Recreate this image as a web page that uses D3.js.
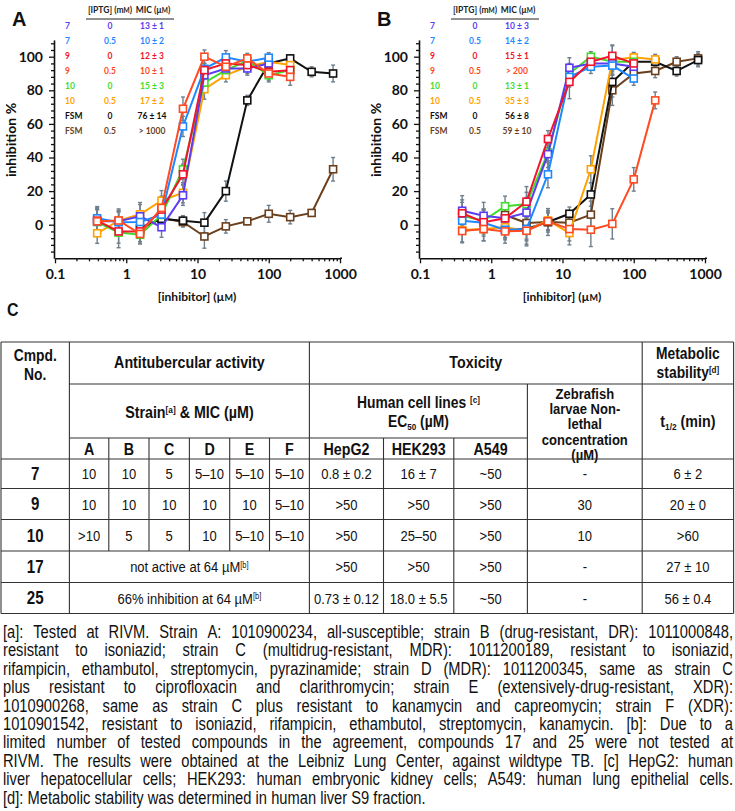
<!DOCTYPE html>
<html><head><meta charset="utf-8">
<script src="https://cdn.jsdelivr.net/npm/d3@7"></script>
<style>body{margin:0;background:#fff} svg{display:block}</style>
</head><body>
<svg id="fig" width="735" height="811"></svg>
<script>
// ---------- DATA ----------
const conc = [0.390625, 0.78125, 1.5625, 3.125, 6.25, 12.5, 25, 50, 100, 200, 400, 800];
const seriesCompound = ["7", "7", "9", "9", "10", "10", "FSM", "FSM"];
const seriesIPTG = ["0", "0.5", "0", "0.5", "0", "0.5", "0", "0.5"];
const seriesColors = ["#5a3cf2", "#1e88ff", "#f0142d", "#ff4a22", "#3fdc2c", "#ffa100", "#111111", "#6b3f1c"];
const micA = ["13 ± 1", "10 ± 2", "12 ± 3", "10 ± 1", "15 ± 3", "17 ± 2", "76 ± 14", "> 1000"];
const micB = ["10 ± 3", "14 ± 2", "15 ± 1", "> 200", "13 ± 1", "35 ± 3", "56 ± 8", "59 ± 10"];

const A_7_0    = [2, 2, 5, -1.5, 17.5, 89, 93, 93, 96, null, null, null];
const A_7_05   = [3.8, 1.5, 1.6, 6, 58.5, 92.8, 99.6, 97, 99.4, null, null, null];
const A_9_0    = [2.4, -4, -4, 9, 30, 92, 96, 95, 91, 92, null, null];
const A_9_05   = [2, 2.5, -5.5, 10, 69, 100, 94, 99, 90, 88, null, null];
const A_10_0   = [1.6, -4.7, -6, 5.8, 33, 84.6, 92, 97.5, 89, 92, null, null];
const A_10_05  = [-5.1, 2.4, 6.2, 14.3, 19, 80.7, 89, 94, 97, 95, null, null];
const A_FSM_0  = [null, null, -2, 3.5, 2.4, 1.2, 20, 74, 96, 99, 91, 90];
const A_FSM_05 = [null, null, -3, 4, 1.6, -7, -1, 2, 6.5, 4.5, 7, 33];

const errA_7_0    = [7, 6, 7, 6, 6, 4, 4, 4, 3];
const errA_7_05   = [7, 6, 6, 6, 6, 5, 4, 3, 3];
const errA_9_0    = [8, 7, 6, 7, 6, 4, 4, 3, 4, 4];
const errA_9_05   = [7, 6, 6, 7, 7, 4, 4, 3, 4, 5];
const errA_10_0   = [8, 9, 5, 6, 6, 5, 4, 3, 4, 5];
const errA_10_05  = [6, 7, 7, 6, 6, 6, 4, 4, 3, 4];
const errA_FSM_0  = [null, null, 4, 5, 3, 6, 6, 3, 3, 2, 3, 5];
const errA_FSM_05 = [null, null, 4, 5, 3, 7, 4, 2, 5, 4, 2, 7];

const B_7_0    = [8.3, 5.3, 3.8, 7.2, 42, 93.4, 96, 96, 94, null, null, null];
const B_7_05   = [2.4, 1.2, -3, -2.6, 30, 88, 94, 94.7, 87, null, null, null];
const B_9_0    = [6.8, 1.5, 3.8, 13.7, 51, 85, 97, 100.5, 96, null, null, null];
const B_9_05   = [-3.8, -2.6, -4, -3.6, 2, -2.6, -3, 0.5, 27, 74, null, null];
const B_10_0   = [5.3, 2.4, 11, 12.3, 43, 90, 100, 97, 97, null, null, null];
const B_10_05  = [-3.2, -2.6, -1.5, -3.6, 2.5, -5, 33, 98, 99.6, 98.4, null, null];
const B_FSM_0  = [null, null, -3, -2.6, 1.6, 6.5, 18, 85, 97, 97, 91.5, 98];
const B_FSM_05 = [null, null, 5.8, 1, 1.6, 1.2, 6, 80, 90, 91.5, 97, 99];

const errB_7_0    = [9, 8, 7, 9, 8, 6, 4, 5, 4];
const errB_7_05   = [7, 8, 6, 7, 8, 6, 4, 5, 4];
const errB_9_0    = [8, 7, 6, 9, 5, 10, 4, 6, 4];
const errB_9_05   = [7, 7, 7, 8, 5, 7, 10, 9, 7, 5];
const errB_10_0   = [8, 7, 6, 7, 6, 6, 3, 5, 4];
const errB_10_05  = [7, 7, 6, 9, 6, 7, 8, 9, 3, 3];
const errB_FSM_0  = [null, null, 5, 6, 6, 4, 7, 9, 5, 3, 3, 4];
const errB_FSM_05 = [null, null, 4, 6, 8, 5, 8, 9, 4, 4, 3, 4];

const yMajorTicks = [0, 20, 40, 60, 80, 100];
const xMajorTicks = [0.1, 1, 10, 100, 1000];
const xTickLabels = ["0.1", "1", "10", "100", "1000"];

// Table data
const strainCols = ["A", "B", "C", "D", "E", "F"];
const cellCols = ["HepG2", "HEK293", "A549"];
const compounds = ["7", "9", "10", "17", "25"];
const micRows = [
  ["10", "10", "5", "5–10", "5–10", "5–10"],
  ["10", "10", "10", "10", "10", "5–10"],
  [">10", "5", "5", "10", "5–10", "5–10"],
  null, null
];
const micSpanText = [null, null, null, "not active at 64 µM", "66% inhibition at 64 µM"];
const hepg2 = ["0.8 ± 0.2", ">50", ">50", ">50", "0.73 ± 0.12"];
const hek293 = ["16 ± 7", ">50", "25–50", ">50", "18.0 ± 5.5"];
const a549 = ["~50", ">50", ">50", ">50", "~50"];
const zebrafish = ["-", "30", "10", "-", "-"];
const halfLife = ["6 ± 2", "20 ± 0", ">60", "27 ± 10", "56 ± 0.4"];
const zebraHeader = ["Zebrafish", "larvae Non-", "lethal", "concentration", "(µM)"];

const footLines = [
  "[a]: Tested at RIVM. Strain A: 1010900234, all-susceptible; strain B (drug-resistant, DR): 1011000848,",
  "resistant to isoniazid; strain C (multidrug-resistant, MDR): 1011200189, resistant to isoniazid,",
  "rifampicin, ethambutol, streptomycin, pyrazinamide; strain D (MDR): 1011200345, same as strain C",
  "plus resistant to ciprofloxacin and clarithromycin; strain E (extensively-drug-resistant, XDR):",
  "1010900268, same as strain C plus resistant to kanamycin and capreomycin; strain F (XDR):",
  "1010901542, resistant to isoniazid, rifampicin, ethambutol, streptomycin, kanamycin. [b]: Due to a",
  "limited number of tested compounds in the agreement, compounds 17 and 25 were not tested at",
  "RIVM. The results were obtained at the Leibniz Lung Center, against wildtype TB. [c] HepG2: human",
  "liver hepatocellular cells; HEK293: human embryonic kidney cells; A549: human lung epithelial cells.",
  "[d]: Metabolic stability was determined in human liver S9 fraction."
];

// ---------- DRAW ----------
const svg = d3.select("#fig");
const chartFont = "Lato, 'Open Sans', sans-serif";
const tableFont = "'Liberation Sans', Arial, sans-serif";
const SX = 0.84; // horizontal condensing to mimic a narrow face
const errColor = "#6f7f8c";

function drawPanel(ox, letter, vals, errs, mics) {
  const g = svg.append("g").attr("font-family", chartFont);
  const x = d3.scaleLog().domain([0.1, 1000]).range([ox + 55, ox + 340]);
  const y = d3.scaleLinear().domain([-20, 110]).range([258.3, 39.9]);
  const axY = 258.3, axX = ox + 54;

  g.append("g").attr("transform", `translate(${axX},0)`)
    .call(d3.axisLeft(y).tickValues(yMajorTicks).tickSize(5).tickSizeOuter(0).tickPadding(6).tickFormat(d3.format("d")));
  g.append("g").attr("transform", `translate(${axX},0)`)
    .call(d3.axisLeft(y).tickValues(d3.range(-16, 110, 4).filter(v => v % 20 !== 0)).tickSize(3).tickSizeOuter(0).tickFormat(""))
    .select(".domain").remove();
  g.append("g").attr("transform", `translate(0,${axY})`)
    .call(d3.axisBottom(x).tickValues(xMajorTicks).tickSize(5).tickSizeOuter(0).tickPadding(6).tickFormat((d, i) => xTickLabels[i]));
  const minor = [];
  [0.1, 1, 10, 100].forEach(dec => { for (let k = 2; k <= 9; k++) minor.push(dec * k); });
  g.append("g").attr("transform", `translate(0,${axY})`)
    .call(d3.axisBottom(x).tickValues(minor).tickSize(3).tickSizeOuter(0).tickFormat(""))
    .select(".domain").remove();
  g.selectAll(".domain").attr("stroke", "#111").attr("stroke-width", 1.6);
  g.selectAll(".tick line").attr("stroke", "#111").attr("stroke-width", 1.3);
  g.selectAll(".tick text").attr("font-family", chartFont).attr("font-weight", 700).attr("font-size", 14).attr("fill", "#111");
  g.append("line").attr("x1", ox + 340).attr("x2", ox + 342).attr("y1", axY).attr("y2", axY).attr("stroke", "#111").attr("stroke-width", 1.6);

  const xl = g.append("text").attr("x", ox + 197).attr("y", 301).attr("text-anchor", "middle")
    .attr("font-weight", 700).attr("font-size", 12).attr("fill", "#111");
  xl.append("tspan").text("[inhibitor] (µ");
  xl.append("tspan").attr("font-size", 9).text("M");
  xl.append("tspan").text(")");
  g.append("text").attr("transform", `translate(${ox + 16},140) rotate(-90)`).attr("text-anchor", "middle")
    .attr("font-weight", 700).attr("font-size", 14).attr("fill", "#111").text("inhibition %");
  svg.append("text").attr("x", ox + 12).attr("y", 26).attr("font-family", "'Liberation Sans', Arial, sans-serif")
    .attr("font-weight", 700).attr("font-size", 20).attr("fill", "#111").text(letter);

  const lg = g.append("g").attr("font-weight", 700).attr("font-size", 8.5);
  const h1 = lg.append("text").attr("x", ox + 110).attr("y", 12.5).attr("text-anchor", "middle").attr("fill", "#222");
  h1.append("tspan").text("[IPTG] (m"); h1.append("tspan").attr("font-size", 6.5).text("M"); h1.append("tspan").text(")");
  const h2 = lg.append("text").attr("x", ox + 153).attr("y", 12.5).attr("text-anchor", "middle").attr("fill", "#222");
  h2.append("tspan").text("MIC (µ"); h2.append("tspan").attr("font-size", 6.5).text("M"); h2.append("tspan").text(")");
  lg.append("line").attr("x1", ox + 86).attr("x2", ox + 174).attr("y1", 19).attr("y2", 19).attr("stroke", "#222").attr("stroke-width", 1);
  seriesCompound.forEach((c, i) => {
    const yy = 28.5 + i * 15;
    lg.append("text").attr("x", ox + 65).attr("y", yy).attr("fill", seriesColors[i]).text(c);
    lg.append("text").attr("x", ox + 110).attr("y", yy).attr("text-anchor", "middle").attr("fill", seriesColors[i]).text(seriesIPTG[i]);
    lg.append("text").attr("x", ox + 152).attr("y", yy).attr("text-anchor", "middle").attr("fill", seriesColors[i]).text(mics[i]);
  });

  const eg = g.append("g").attr("stroke", errColor).attr("stroke-width", 1.4);
  vals.forEach((v, si) => {
    v.forEach((val, i) => {
      const e = errs[si][i];
      if (val == null || e == null) return;
      const cx = x(conc[i]);
      eg.append("line").attr("x1", cx).attr("x2", cx).attr("y1", y(val - e)).attr("y2", y(val + e));
      eg.append("line").attr("x1", cx - 2).attr("x2", cx + 2).attr("y1", y(val - e)).attr("y2", y(val - e));
      eg.append("line").attr("x1", cx - 2).attr("x2", cx + 2).attr("y1", y(val + e)).attr("y2", y(val + e));
    });
  });
  const line = d3.line().defined(d => d.v != null).x(d => x(d.c)).y(d => y(d.v));
  const order = [7, 6, 5, 4, 0, 1, 2, 3];
  order.forEach(si => {
    const pts = vals[si].map((v, i) => ({ c: conc[i], v }));
    g.append("path").datum(pts).attr("d", line).attr("fill", "none").attr("stroke", seriesColors[si]).attr("stroke-width", 2);
    g.append("g").selectAll("rect").data(pts.filter(d => d.v != null)).join("rect")
      .attr("x", d => x(d.c) - 3.5).attr("y", d => y(d.v) - 3.5).attr("width", 7).attr("height", 7)
      .attr("fill", "#fff").attr("stroke", seriesColors[si]).attr("stroke-width", 1.6);
  });
}

drawPanel(0, "A",
  [A_7_0, A_7_05, A_9_0, A_9_05, A_10_0, A_10_05, A_FSM_0, A_FSM_05],
  [errA_7_0, errA_7_05, errA_9_0, errA_9_05, errA_10_0, errA_10_05, errA_FSM_0, errA_FSM_05], micA);
drawPanel(365, "B",
  [B_7_0, B_7_05, B_9_0, B_9_05, B_10_0, B_10_05, B_FSM_0, B_FSM_05],
  [errB_7_0, errB_7_05, errB_9_0, errB_9_05, errB_10_0, errB_10_05, errB_FSM_0, errB_FSM_05], micB);

// ---------- TABLE ----------
const T = svg.append("g").attr("font-family", tableFont).attr("fill", "#111");

const colX = [1, 69.4, 108.8, 149, 189.4, 229.7, 269.5, 309.4, 383.5, 453.8, 527.4, 642.2, 733.6];
const yTop = 342, yH1 = 384, yH2 = 438, yH3 = 459;
const rowY = [459, 488.5, 519.5, 551, 582.5, 613.5];

function rich(parent, x, cy, segs, size, weight, anchor) {
  const t = parent.append("text").attr("x", 0).attr("y", cy + size * 0.36)
    .attr("transform", `translate(${x},0) scale(${SX},1)`)
    .attr("text-anchor", anchor || "middle").attr("font-size", size).attr("font-weight", weight || 400);
  let cur = 0;
  segs.forEach(s => {
    const seg = typeof s === "string" ? { t: s, s: 0 } : s;
    const shift = seg.s === 1 ? -size * 0.3 : seg.s === -1 ? size * 0.18 : 0;
    const sp = t.append("tspan").text(seg.t).attr("dy", shift - cur);
    if (seg.s) sp.attr("font-size", size * 0.58);
    cur = shift;
  });
  return t;
}
const mid = (a, b) => (a + b) / 2;
const hb = 17;

rich(T, 7, 309, ["C"], 19, 700, "start");

rich(T, mid(colX[0], colX[1]), 355, ["Cmpd."], 16.5, 700);
rich(T, mid(colX[0], colX[1]), 374, ["No."], 16.5, 700);
rich(T, mid(colX[1], colX[7]), 362, ["Antitubercular activity"], hb, 700);
rich(T, mid(colX[7], colX[11]), 362, ["Toxicity"], hb, 700);
rich(T, mid(colX[11], colX[12]), 353.5, ["Metabolic"], 16.5, 700);
rich(T, mid(colX[11], colX[12]), 372.5, ["stability", { t: "[d]", s: 1 }], 16.5, 700);
rich(T, mid(colX[1], colX[7]), 412, ["Strain", { t: "[a]", s: 1 }, " & MIC (µM)"], hb, 700);
rich(T, mid(colX[7], colX[10]), 402, ["Human cell lines ", { t: "[c]", s: 1 }], 16.5, 700);
rich(T, mid(colX[7], colX[10]), 421, ["EC", { t: "50", s: -1 }, " (µM)"], 16.5, 700);
zebraHeader.forEach((l, i) =>
  rich(T, mid(colX[10], colX[11]), 393 + i * 15.4, [l], 15.5, 700));
rich(T, mid(colX[11], colX[12]), 421, ["t", { t: "1/2", s: -1 }, " (min)"], hb, 700);
strainCols.concat(cellCols).forEach((l, i) => rich(T, mid(colX[1 + i], colX[2 + i]), 448.5, [l], hb, 700));

const bs = 15.5;
compounds.forEach((c, r) => {
  const cy = mid(rowY[r], rowY[r + 1]);
  rich(T, mid(colX[0], colX[1]), cy, [c], 18, 700);
  if (micRows[r]) {
    micRows[r].forEach((v, j) => rich(T, mid(colX[1 + j], colX[2 + j]), cy, [v], bs, 400));
  } else {
    rich(T, mid(colX[1], colX[7]), cy, [micSpanText[r], { t: "[b]", s: 1 }], bs, 400);
  }
  rich(T, mid(colX[7], colX[8]), cy, [hepg2[r]], bs, 400);
  rich(T, mid(colX[8], colX[9]), cy, [hek293[r]], bs, 400);
  rich(T, mid(colX[9], colX[10]), cy, [a549[r]], bs, 400);
  rich(T, mid(colX[10], colX[11]), cy, [zebrafish[r]], bs, 400);
  rich(T, mid(colX[11], colX[12]), cy, [halfLife[r]], bs, 400);
});

const L = svg.append("g").attr("stroke", "#333").attr("stroke-width", 1.1);
function hl(x1, x2, y) { L.append("line").attr("x1", x1).attr("x2", x2).attr("y1", y).attr("y2", y); }
function vl(x, y1, y2) { L.append("line").attr("x1", x).attr("x2", x).attr("y1", y1).attr("y2", y2); }
hl(colX[0], colX[12], yTop);
hl(colX[1], colX[12], yH1);
hl(colX[1], colX[10], yH2);
rowY.forEach(yv => hl(colX[0], colX[12], yv));
vl(colX[0], yTop, rowY[5]); vl(colX[12], yTop, rowY[5]);
vl(colX[1], yTop, rowY[5]); vl(colX[7], yTop, rowY[5]); vl(colX[11], yTop, rowY[5]);
vl(colX[10], yH1, rowY[5]);
vl(colX[8], yH2, rowY[5]); vl(colX[9], yH2, rowY[5]);
for (let j = 2; j <= 6; j++) vl(colX[j], yH2, rowY[3]);

// ---------- FOOTNOTES (justified) ----------
const fs = 17.5;
const F = svg.append("g").attr("font-family", tableFont).attr("font-size", fs).attr("fill", "#111")
  .attr("transform", `scale(${SX},1)`);
const fx0 = 3 / SX, fx1 = 733 / SX, fy0 = 638, fdy = 18.4;
footLines.forEach((ln, i) => {
  const words = ln.split(" ");
  const t = F.append("text").attr("y", fy0 + i * fdy);
  const spans = words.map(w => t.append("tspan").text(w));
  const widths = spans.map(s => s.node().getComputedTextLength());
  const total = d3.sum(widths);
  const last = i === footLines.length - 1;
  const gap = last ? fs * 0.28 : (fx1 - fx0 - total) / (words.length - 1);
  let xx = fx0;
  spans.forEach((s, k) => { s.attr("x", xx); xx += widths[k] + gap; });
});
</script>
</body></html>
